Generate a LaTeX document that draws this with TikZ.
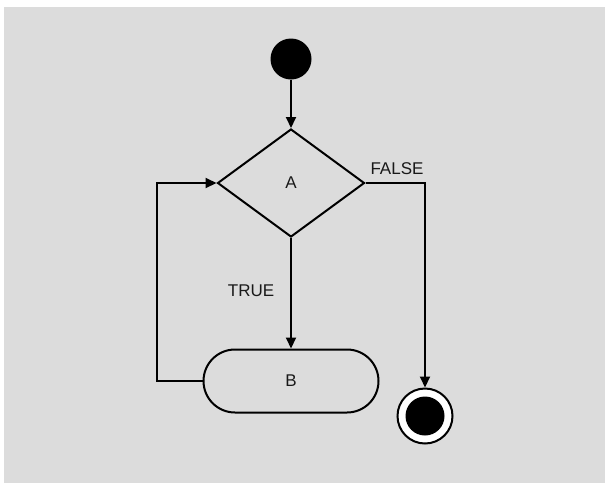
\documentclass[tikz,border=0pt]{standalone}
\usepackage{fontspec}
\setmainfont{Liberation Sans}
\usetikzlibrary{shapes.geometric,arrows.meta}
\definecolor{bg}{RGB}{220,220,220}
\tikzset{
  conn/.style={line width=2pt,draw=black,-{Triangle[length=11pt,width=10pt]}},
  lbl/.style={font=\fontsize{17pt}{19pt}\selectfont,inner sep=0pt,text=black!90},
}
\begin{document}
\begin{tikzpicture}[x=1pt,y=-1pt]
\useasboundingbox (0,0) rectangle (605,483);
\fill[white] (0,0) rectangle (605,483);
\fill[bg] (4,7) rectangle (605,483);
\node[circle,fill=black,minimum size=41pt,inner sep=0pt] (start) at (291,59) {};
\node[diamond,draw,line width=2pt,minimum width=147pt,minimum height=108pt,inner sep=0pt,lbl] (A) at (291,183) {A};
\node[draw,line width=2pt,rounded corners=31.5pt,minimum width=175pt,minimum height=63pt,lbl] (B) at (291,381) {B};
\node[circle,draw,line width=2pt,fill=white,minimum size=55pt,inner sep=0pt] (endc) at (425,416) {};
\node[circle,fill=black,minimum size=39pt,inner sep=0pt] (endin) at (endc.center) {};
\coordinate (lp) at (157,381);
\draw[conn] (start) -- (A.north);
\draw[conn] (A.south) -- (B.north);
\draw[conn] (A.east) -| (endc.north);
\draw[conn] (B.west) -- (lp) |- (A.west);
\node[lbl] (tf) at (397,169) {FALSE};
\node[lbl] (tt) at (251,291) {TRUE};
\end{tikzpicture}
\end{document}
